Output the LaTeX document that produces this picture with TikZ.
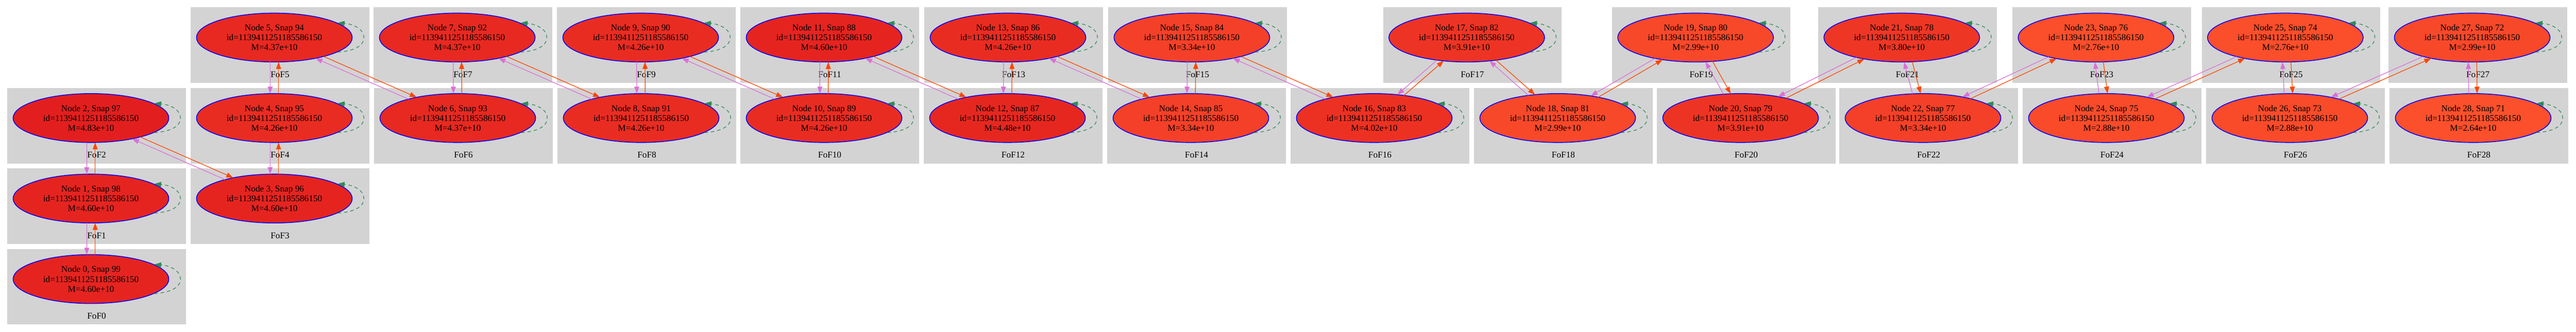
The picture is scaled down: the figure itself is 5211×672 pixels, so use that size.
\documentclass[tikz,border=0pt]{standalone}
\usepackage{fontspec}
\setmainfont{Liberation Serif}
\usetikzlibrary{arrows.meta,shapes.geometric,calc,intersections}
\definecolor{clustergray}{RGB}{211,211,211}
\definecolor{fdark}{RGB}{226,31,30}
\definecolor{flight}{RGB}{252,80,44}
\definecolor{progcol}{RGB}{218,112,214}
\definecolor{desccol}{RGB}{255,69,0}
\definecolor{loopcol}{RGB}{46,139,87}
\begin{document}
\begin{tikzpicture}[x=1pt,y=-1pt,
  fofbox/.style={fill=clustergray},
  foflabel/.style={font=\fontsize{18pt}{20pt}\selectfont, inner sep=0pt},
  halo/.style={ellipse, draw=blue, line width=1.6pt, minimum width=315pt,
    minimum height=99pt, inner sep=0pt, align=center,
    font=\fontsize{18pt}{20pt}\selectfont},
  tipstyle/.style={-{Triangle[length=14pt,width=10pt]}},
  progedge/.style={draw=progcol, line width=1.3pt, tipstyle},
  descedge/.style={draw=desccol, line width=1.3pt, tipstyle},
  selfloop/.style={draw=loopcol, line width=1.3pt, dash pattern=on 7pt off 6pt, tipstyle}
]
\useasboundingbox (0,0) rectangle (5211,672);
\fill[white] (0,0) rectangle (5211,672);

\foreach \i/\x/\y/\m in {
  0/15/504/4.60, 1/15/341/4.60, 2/15/178/4.83, 3/386/341/4.60,
  4/386/178/4.26, 5/386/15/4.37, 6/757/178/4.37, 7/756/15/4.37,
  8/1128/178/4.26, 9/1127/15/4.26, 10/1498/178/4.26, 11/1498/15/4.60,
  12/1869/178/4.48, 13/1870/15/4.26, 14/2240/178/3.34, 15/2242/15/3.34,
  16/2611/178/4.02, 17/2798/15/3.91, 18/2982/178/2.99, 19/3261/15/2.99,
  20/3352/178/3.91, 21/3678/15/3.80, 22/3721/178/3.34, 23/4071/15/2.76,
  24/4092/178/2.88, 25/4454/15/2.76, 26/4463/178/2.88, 27/4832/15/2.99,
  28/4834/178/2.64} {
  \pgfmathtruncatemacro\snap{99-\i}
  \pgfmathtruncatemacro\pc{round(100*(\m-2.64)/2.19)}
  \colorlet{halofill}{fdark!\pc!flight}
  \fill[fofbox] (\x,\y) rectangle ++(361,153);
  \node[foflabel] (lab\i) at (\x+180.5,\y+136) {FoF\i};
  \node[halo, fill=halofill] (n\i) at (\x+169,\y+61)
    {Node \i, Snap \snap\\id=1139411251185586150\\M=\m e+10};
  \draw[selfloop] (n\i.-13) .. controls +(31,-2) and +(0,18) ..
    ([xshift=181pt]n\i.center) .. controls +(0,-18) and +(30,2) .. (n\i.13);
}

\foreach \u/\l/\d in {
  1/0/8.5, 2/1/8.5, 2/3/5, 4/3/8.5, 5/4/8.5, 5/6/5, 7/6/8.5, 7/8/5,
  9/8/8.5, 9/10/5, 11/10/8.5, 11/12/5, 13/12/8.5, 13/14/5, 15/14/8.5,
  15/16/5, 17/16/5, 17/18/5, 19/18/5, 19/20/6.5, 21/20/5, 21/22/8,
  23/22/5, 23/24/8.5, 25/24/5, 25/26/8.5, 27/26/5, 27/28/8.5} {
  \path[name path=eu] (n\u.center) ellipse [x radius=157.5pt, y radius=49.5pt];
  \path[name path=el] (n\l.center) ellipse [x radius=157.5pt, y radius=49.5pt];
  \path[name path=pv] ($(n\u.center)!\d pt!-90:(n\l.center)$) -- ($(n\l.center)!\d pt!90:(n\u.center)$);
  \path[name path=po] ($(n\u.center)!\d pt!90:(n\l.center)$) -- ($(n\l.center)!\d pt!-90:(n\u.center)$);
  \path[name intersections={of=eu and pv, by=vu}];
  \path[name intersections={of=el and pv, by=vl}];
  \path[name intersections={of=eu and po, by=ou}];
  \path[name intersections={of=el and po, by=ol}];
  \ifnum\u>\l
    \draw[progedge] (vu) -- (vl);
    \draw[descedge] (ol) -- (ou);
  \else
    \draw[progedge] (vl) -- (vu);
    \draw[descedge] (ou) -- (ol);
  \fi
}
\end{tikzpicture}
\end{document}
